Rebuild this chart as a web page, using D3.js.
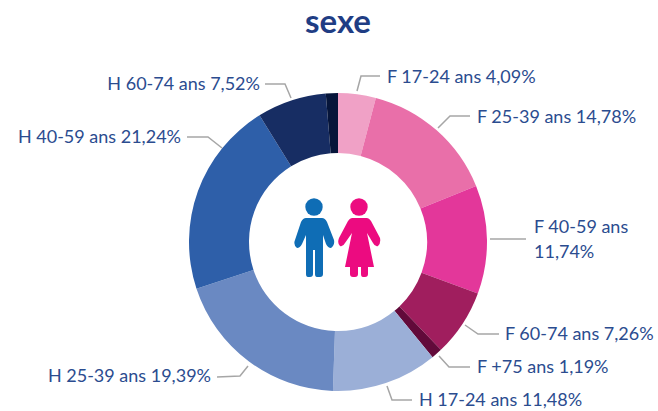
<!DOCTYPE html>
<html>
<head>
<meta charset="utf-8">
<script src="https://cdn.jsdelivr.net/npm/d3@7"></script>
<style>
  html, body { margin: 0; padding: 0; background: #fff; }
  svg { display: block; }
  text { font-family: Lato, "Open Sans", sans-serif; }
</style>
</head>
<body>
<svg id="chart" width="658" height="411"></svg>
<script>
const categories = ["F 17-24 ans", "F 25-39 ans", "F 40-59 ans", "F 60-74 ans", "F +75 ans",
                    "H 17-24 ans", "H 25-39 ans", "H 40-59 ans", "H 60-74 ans", "H +75 ans"];
const values = [4.09, 14.78, 11.74, 7.26, 1.19, 11.48, 19.39, 21.24, 7.52, 1.31];
const sliceColors = ["#f0a1c6", "#e96fa9", "#e3379a", "#a01e5e", "#620a3a",
                     "#9bafd7", "#6a89c2", "#2e5fa9", "#172d63", "#06153a"];
const title = "sexe";

// label placement, same order as categories (last slice has no label)
const labelLayout = [
  { line: [[357, 91], [361, 76], [380, 76]], x: 387, y: 83, anchor: "start" },
  { line: [[438, 128], [450, 116], [470, 116]], x: 477, y: 123, anchor: "start" },
  { line: [[490, 239], [526, 239]], x: 534, y: 233, anchor: "start", wrap: true },
  { line: [[465, 325], [478, 334], [499, 334]], x: 505, y: 340, anchor: "start" },
  { line: [[439, 356], [449, 367], [470, 367]], x: 477, y: 373, anchor: "start" },
  { line: [[387, 386], [392, 400], [412, 400]], x: 419, y: 406, anchor: "start" },
  { line: [[248, 366], [240, 376], [217, 377]], x: 211, y: 382, anchor: "end" },
  { line: [[222, 148], [208, 137], [187, 137]], x: 181, y: 143, anchor: "end" },
  { line: [[291, 98], [285, 84], [265, 84]], x: 260, y: 90, anchor: "end" }
];

const fmt = v => v.toFixed(2).replace(".", ",") + "%";
const textColor = "#2b4c8f";
const svg = d3.select("#chart");

svg.append("text")
  .attr("x", 338).attr("y", 33)
  .attr("text-anchor", "middle")
  .attr("font-size", 33).attr("font-weight", "bold")
  .attr("fill", "#1f3d84")
  .text(title);

// Anneau
const pie = d3.pie().sort(null).value(d => d);
const arc = d3.arc().innerRadius(89).outerRadius(149);
svg.append("g")
  .attr("transform", "translate(338,242)")
  .selectAll("path")
  .data(pie(values))
  .join("path")
    .attr("d", arc)
    .attr("fill", (d, i) => sliceColors[i]);

// Labels
labelLayout.forEach((l, i) => {
  svg.append("path")
    .attr("d", d3.line()(l.line))
    .attr("fill", "none")
    .attr("stroke", "#a6a6a6")
    .attr("stroke-width", 1.5);

  const t = svg.append("text")
    .attr("x", l.x).attr("y", l.y)
    .attr("text-anchor", l.anchor)
    .attr("font-size", 18)
    .attr("fill", textColor);
  if (l.wrap) {
    t.append("tspan").attr("x", l.x).text(categories[i]);
    t.append("tspan").attr("x", l.x).attr("dy", 25).text(fmt(values[i]));
  } else {
    t.text(categories[i] + " " + fmt(values[i]));
  }
});

// Pictogrammes
const boy = svg.append("g").attr("fill", "#0f6db5").attr("stroke", "none");
boy.append("circle").attr("cx", 314).attr("cy", 207).attr("r", 8.7);
boy.append("path").attr("d", "M306,218 H322 Q325,218 327,222 L334,240 Q335,245 331,248 Q328,248 326,244 L323,235 V274 Q323,277 320,277 H317 Q315,277 315,274 V250 H313 V274 Q313,277 310,277 H308 Q306,277 306,274 V235 L302,244 Q300,248 297,248 Q293,245 295,240 L301,222 Q303,218 306,218 Z");

const girl = svg.append("g").attr("fill", "#ec0b80").attr("stroke", "none");
girl.append("circle").attr("cx", 359).attr("cy", 207).attr("r", 8.7);
girl.append("path").attr("d", "M352,218 H367 Q369,218 371,221 L380,238 Q381,243 378,246 Q375,247 373,243 L367,233 L374,267 H368 V274 Q368,277 365,277 H363 Q361,277 361,274 V267 H358 V274 Q358,277 355,277 H353 Q350,277 350,274 V267 H345 L352,233 L345,243 Q343,247 340,246 Q337,243 339,238 L348,221 Q350,218 352,218 Z");
</script>
</body>
</html>
